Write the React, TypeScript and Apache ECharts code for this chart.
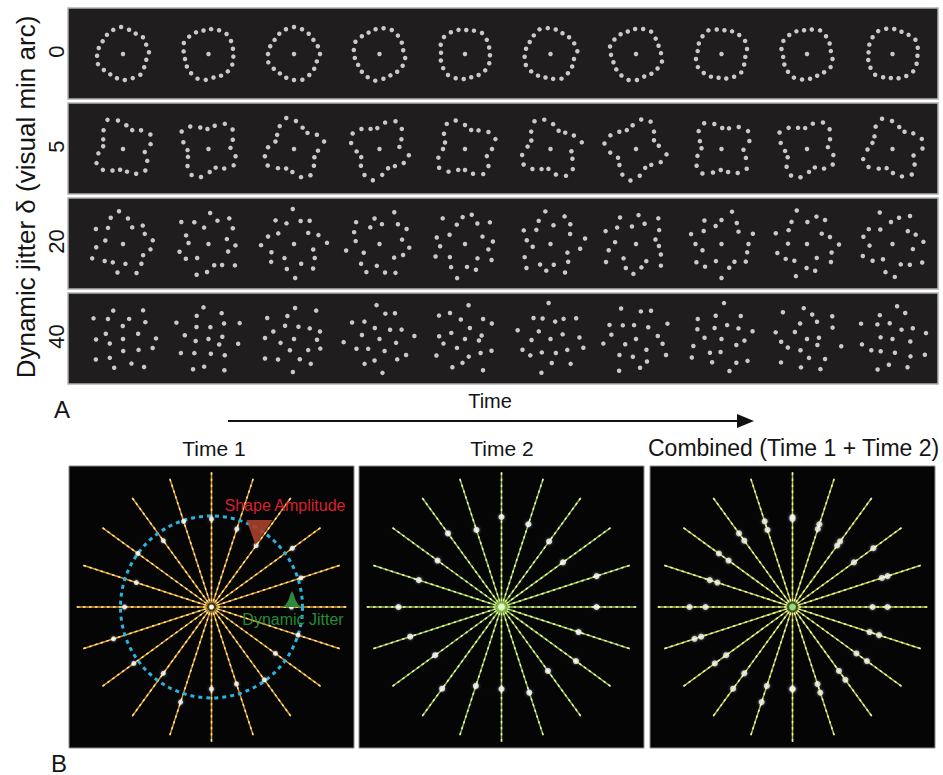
import React, { useEffect, useRef } from "react";
import * as echarts from "echarts";

// ---- Panel A: dot patterns per jitter level (rows) and time frame (columns) ----
const jitterLevels = ["0", "5", "20", "40"];
const dotAngles = [0, 18, 36, 54, 72, 90, 108, 126, 144, 162, 180, 198, 216, 234, 252, 270, 288, 306, 324, 342];

// radius of each of the 20 dots (visual units) for every frame
const radiiDelta0 = [
  [26, 25, 26, 24, 25, 27, 26, 25, 24, 25, 26, 27, 25, 24, 25, 26, 26, 27, 25, 24],
  [25, 26, 27, 26, 25, 24, 25, 26, 27, 25, 24, 25, 26, 27, 26, 24, 25, 26, 26, 25],
  [26, 25, 24, 25, 26, 27, 26, 25, 24, 25, 26, 27, 25, 24, 25, 26, 27, 26, 25, 24],
  [24, 25, 26, 27, 26, 25, 24, 25, 27, 26, 25, 24, 25, 26, 27, 25, 24, 25, 26, 26],
  [25, 26, 27, 25, 24, 25, 26, 27, 26, 24, 25, 26, 27, 26, 25, 24, 25, 26, 26, 25],
  [27, 26, 25, 24, 25, 26, 27, 25, 24, 25, 26, 27, 26, 25, 24, 25, 27, 26, 25, 24],
  [25, 24, 25, 27, 26, 25, 24, 25, 26, 27, 25, 24, 25, 26, 27, 26, 24, 25, 26, 27],
  [26, 27, 26, 25, 24, 25, 27, 26, 25, 24, 26, 27, 26, 25, 24, 25, 26, 27, 25, 24],
  [24, 25, 26, 27, 25, 24, 25, 26, 27, 26, 24, 25, 26, 27, 26, 25, 24, 25, 27, 26],
  [26, 27, 25, 24, 25, 26, 27, 26, 25, 24, 25, 26, 27, 25, 24, 25, 26, 27, 26, 25],
];
const radiiDelta5 = [
  [28, 31, 26, 21, 24, 29, 33, 27, 22, 20, 25, 30, 29, 24, 21, 23, 28, 31, 27, 22],
  [22, 26, 31, 30, 24, 20, 23, 29, 32, 26, 21, 22, 27, 31, 29, 23, 20, 25, 30, 28],
  [31, 27, 21, 23, 28, 32, 27, 22, 20, 26, 30, 31, 25, 21, 23, 29, 31, 26, 22, 24],
  [20, 24, 30, 32, 27, 21, 22, 27, 31, 29, 23, 20, 25, 30, 32, 26, 21, 23, 28, 30],
  [27, 32, 29, 23, 20, 24, 30, 31, 26, 21, 22, 28, 32, 28, 22, 21, 26, 31, 29, 23],
  [32, 27, 22, 20, 25, 30, 32, 26, 21, 23, 29, 31, 27, 22, 20, 26, 31, 30, 24, 21],
  [23, 20, 25, 31, 30, 24, 21, 24, 29, 32, 26, 20, 23, 29, 32, 27, 21, 22, 28, 31],
  [29, 32, 28, 22, 21, 26, 31, 29, 23, 20, 25, 30, 31, 25, 21, 24, 29, 32, 26, 22],
  [21, 25, 30, 31, 26, 21, 23, 28, 32, 27, 22, 21, 27, 31, 29, 23, 20, 26, 30, 27],
  [30, 31, 26, 21, 23, 28, 32, 28, 22, 21, 25, 31, 30, 24, 20, 24, 29, 32, 27, 22],
];
const radiiDelta20 = [
  [30, 24, 27, 19, 26, 33, 29, 22, 31, 18, 27, 34, 25, 21, 29, 20, 32, 27, 23, 28],
  [19, 29, 33, 25, 31, 17, 26, 35, 24, 20, 30, 27, 18, 33, 28, 22, 25, 34, 21, 27],
  [33, 26, 18, 28, 24, 35, 22, 30, 19, 27, 33, 24, 29, 17, 26, 34, 21, 31, 25, 20],
  [23, 31, 27, 35, 20, 26, 19, 32, 28, 24, 34, 18, 27, 31, 22, 29, 33, 20, 26, 30],
  [28, 19, 33, 24, 30, 27, 21, 34, 18, 29, 25, 32, 20, 27, 35, 23, 28, 19, 31, 24],
  [35, 22, 28, 31, 19, 33, 26, 20, 30, 24, 18, 29, 34, 23, 27, 21, 32, 25, 19, 30],
  [20, 27, 34, 22, 29, 18, 31, 25, 33, 21, 28, 35, 19, 26, 30, 24, 20, 33, 27, 23],
  [27, 33, 21, 26, 34, 24, 19, 29, 22, 32, 26, 20, 31, 28, 18, 34, 25, 22, 30, 27],
  [24, 18, 30, 29, 22, 35, 27, 23, 33, 19, 31, 26, 21, 34, 24, 28, 17, 30, 26, 32],
  [31, 25, 20, 33, 27, 22, 34, 19, 28, 30, 23, 32, 26, 18, 29, 33, 22, 27, 35, 21],
];
const radiiDelta40 = [
  [33, 16, 28, 35, 21, 13, 30, 25, 36, 18, 27, 14, 34, 23, 30, 12, 26, 35, 19, 31],
  [14, 35, 22, 29, 12, 32, 26, 17, 36, 24, 13, 31, 20, 34, 28, 15, 35, 23, 12, 30],
  [27, 19, 36, 13, 31, 24, 16, 34, 22, 29, 14, 35, 26, 12, 33, 21, 30, 18, 28, 23],
  [35, 24, 14, 30, 26, 34, 12, 23, 32, 18, 36, 25, 15, 29, 22, 34, 13, 27, 31, 17],
  [17, 31, 27, 12, 34, 20, 30, 35, 15, 26, 22, 33, 12, 31, 24, 18, 36, 21, 29, 14],
  [29, 13, 33, 24, 18, 36, 22, 27, 14, 34, 19, 30, 26, 16, 35, 24, 15, 32, 20, 34],
  [22, 35, 17, 32, 28, 14, 34, 19, 30, 25, 33, 12, 23, 36, 18, 29, 25, 15, 34, 27],
  [32, 20, 30, 15, 36, 24, 13, 31, 26, 17, 29, 35, 18, 25, 13, 33, 28, 34, 16, 23],
  [12, 28, 34, 20, 25, 31, 17, 36, 14, 32, 26, 21, 35, 13, 29, 19, 33, 27, 12, 35],
  [34, 23, 13, 29, 33, 16, 27, 21, 35, 12, 31, 24, 17, 34, 26, 14, 32, 25, 36, 18],
];
// orientation of each frame (degrees)
const rotationDelta0 = [4, 12, 0, 9, 15, 6, 2, 11, 7, 14];
const rotationDelta5 = [10, 3, 14, 6, 0, 12, 8, 16, 5, 1];
const rotationDelta20 = [7, 15, 2, 11, 5, 9, 13, 0, 17, 4];
const rotationDelta40 = [1, 9, 16, 5, 12, 3, 8, 14, 6, 10];

// ---- Panel B: one radial frequency pattern at two times ----
const time1Radii = [80, 94, 100, 76, 82, 88, 90, 82, 91, 79, 87, 103, 96, 82, 100, 82, 81, 90, 79, 91];
const time2Radii = [95, 100, 76, 81, 87, 90, 81, 91, 79, 87, 103, 96, 82, 101, 83, 82, 90, 79, 92, 81];
const baseRingRadius = 91;
const spokeLength = 135;

// layout
const BAND_H = 91;
const BAND_GAP = 4;
const BAND_W = 870;
const FRAME_X0 = 55;
const FRAME_DX = 85.5;
const DOT_OFFSET = 46;
const FONT = '"Liberation Sans", Arial, Helvetica, sans-serif';

const deg = Math.PI / 180;

function buildPanelA() {
  const rows = [radiiDelta0, radiiDelta5, radiiDelta20, radiiDelta40];
  const rots = [rotationDelta0, rotationDelta5, rotationDelta20, rotationDelta40];
  const pts: number[][] = [];
  rows.forEach((frames, r) => {
    const cy = r * (BAND_H + BAND_GAP) + DOT_OFFSET;
    frames.forEach((radii, f) => {
      const cx = FRAME_X0 + f * FRAME_DX;
      pts.push([cx, cy]);
      radii.forEach((rad, k) => {
        const a = (dotAngles[k] + rots[r][f]) * deg;
        pts.push([cx + rad * Math.cos(a), cy - rad * Math.sin(a)]);
      });
    });
  });
  return pts;
}

function polarDots(radii: number[]) {
  return radii.map((r, k) => [r * Math.cos(dotAngles[k] * deg), r * Math.sin(dotAngles[k] * deg)]);
}

function spokes(idx: number, base: string, dash: string) {
  return {
    type: "custom",
    xAxisIndex: idx,
    yAxisIndex: idx,
    silent: true,
    z: 2,
    data: dotAngles.map((a) => [a, spokeLength]),
    renderItem: (_p: any, api: any) => {
      const a = api.value(0) * deg;
      const L = api.value(1);
      const c = api.coord([0, 0]);
      const e = api.coord([L * Math.cos(a), L * Math.sin(a)]);
      const shape = { x1: c[0], y1: c[1], x2: e[0], y2: e[1] };
      return {
        type: "group",
        children: [
          { type: "line", shape, style: { stroke: base, lineWidth: 1.5 } },
          { type: "line", shape, style: { stroke: dash, lineWidth: 1.5, lineDash: [2.5, 3.5] } },
        ],
      };
    },
  };
}

function dotSeries(idx: number, data: number[][], color: string, size: number) {
  return {
    type: "scatter",
    xAxisIndex: idx,
    yAxisIndex: idx,
    silent: true,
    z: 5,
    symbolSize: size,
    itemStyle: { color, shadowBlur: 3, shadowColor: "rgba(255,255,255,0.6)" },
    data,
  };
}

function buildOption() {
  const panelsB = [69, 359, 650];
  const grids: any[] = [
    { left: 68, top: 8, width: BAND_W, height: 4 * BAND_H + 3 * BAND_GAP },
    ...panelsB.map((left) => ({
      left,
      top: 466,
      width: 285,
      height: 282,
      show: true,
      backgroundColor: "#050505",
      borderColor: "#8c8c8c",
      borderWidth: 1,
    })),
  ];
  const xAxes: any[] = [
    { type: "value", gridIndex: 0, min: 0, max: BAND_W, show: false },
    ...panelsB.map((_, i) => ({ type: "value", gridIndex: i + 1, min: -142.5, max: 142.5, show: false })),
  ];
  const yAxes: any[] = [
    { type: "value", gridIndex: 0, min: 0, max: 4 * BAND_H + 3 * BAND_GAP, inverse: true, show: false },
    ...panelsB.map((_, i) => ({ type: "value", gridIndex: i + 1, min: -141, max: 141, show: false })),
  ];

  const bands = jitterLevels.map((_, r) => [r * (BAND_H + BAND_GAP), r * (BAND_H + BAND_GAP) + BAND_H]);

  const series: any[] = [
    {
      type: "custom",
      xAxisIndex: 0,
      yAxisIndex: 0,
      silent: true,
      z: 1,
      data: bands,
      renderItem: (_p: any, api: any) => {
        const p0 = api.coord([0, api.value(0)]);
        const p1 = api.coord([BAND_W, api.value(1)]);
        return {
          type: "rect",
          shape: { x: p0[0], y: p0[1], width: p1[0] - p0[0], height: p1[1] - p0[1] },
          style: { fill: "#201d1e", stroke: "#b0b0b0", lineWidth: 1.5 },
        };
      },
    },
    {
      type: "scatter",
      xAxisIndex: 0,
      yAxisIndex: 0,
      silent: true,
      z: 3,
      symbolSize: 4.5,
      itemStyle: { color: "#f5f5f5" },
      data: buildPanelA(),
    },
    // Time 1
    spokes(1, "#d9981c", "#fbe7a4"),
    {
      type: "custom",
      xAxisIndex: 1,
      yAxisIndex: 1,
      silent: true,
      z: 3,
      data: [[baseRingRadius, 0]],
      renderItem: (_p: any, api: any) => {
        const c = api.coord([0, 0]);
        const r = api.size([api.value(0), 0])[0];
        return {
          type: "circle",
          shape: { cx: c[0], cy: c[1], r },
          style: { fill: "none", stroke: "#2cb2df", lineWidth: 3, lineDash: [4, 4] },
        };
      },
    },
    {
      type: "custom",
      xAxisIndex: 1,
      yAxisIndex: 1,
      silent: true,
      z: 6,
      data: [[0, 0]],
      renderItem: (_p: any, api: any) => {
        const tri = [[35, 87], [61, 87], [44, 62]].map((p) => api.coord(p));
        const bump = [[70, 0], [74, 2], [77, 7], [79, 13], [80.5, 16], [82, 13], [84, 7], [87, 2], [91, 0]].map((p) =>
          api.coord(p)
        );
        return {
          type: "group",
          children: [
            { type: "polygon", shape: { points: tri }, style: { fill: "rgba(168,66,44,0.9)" } },
            { type: "polygon", shape: { points: bump }, style: { fill: "#2f8a3d" } },
          ],
        };
      },
    },
    dotSeries(1, polarDots(time1Radii), "#ffffff", 5),
    {
      type: "scatter",
      xAxisIndex: 1,
      yAxisIndex: 1,
      silent: true,
      z: 7,
      symbolSize: 7,
      itemStyle: { color: "#ffffff", borderColor: "#111", borderWidth: 2 },
      data: [[0, 0]],
    },
    // Time 2
    spokes(2, "#8fbe3a", "#eef5c4"),
    dotSeries(2, polarDots(time2Radii), "#ffffff", 6),
    {
      type: "scatter",
      xAxisIndex: 2,
      yAxisIndex: 2,
      silent: true,
      z: 7,
      symbolSize: 9,
      itemStyle: { color: "#f6ffe6", borderColor: "#6fb83a", borderWidth: 2, shadowBlur: 8, shadowColor: "#8fd040" },
      data: [[0, 0]],
    },
    // Combined
    spokes(3, "#b2c235", "#f4f2b6"),
    dotSeries(3, polarDots(time1Radii), "#f6f6ea", 6),
    dotSeries(3, polarDots(time2Radii), "#f6f6ea", 6),
    {
      type: "scatter",
      xAxisIndex: 3,
      yAxisIndex: 3,
      silent: true,
      z: 7,
      symbolSize: 9,
      itemStyle: { color: "#8fd27a", borderColor: "#1d3a14", borderWidth: 2 },
      data: [[0, 0]],
    },
  ];

  const txt = (text: string, x: number, y: number, size: number, extra: any = {}) => ({
    type: "text",
    x,
    y,
    z: 100,
    silent: true,
    ...extra,
    style: {
      text,
      font: `${size}px ${FONT}`,
      fill: "#141414",
      align: "center",
      verticalAlign: "middle",
      ...(extra.style || {}),
    },
  });

  const bandCenter = (r: number) => 8 + r * (BAND_H + BAND_GAP) + BAND_H / 2 - 2;

  const graphic: any[] = [
    txt("Dynamic jitter δ (visual min arc)", 26, 197, 26, { rotation: Math.PI / 2 }),
    ...jitterLevels.map((lv, r) => txt(lv, 56, bandCenter(r), 22, { rotation: Math.PI / 2 })),
    txt("A", 62, 409, 24),
    txt("Time", 490, 401, 20),
    { type: "line", z: 100, shape: { x1: 228, y1: 421, x2: 742, y2: 421 }, style: { stroke: "#111", lineWidth: 2 } },
    { type: "polygon", z: 100, shape: { points: [[737, 414], [754, 421], [737, 428]] }, style: { fill: "#111" } },
    txt("Time 1", 214, 448, 21),
    txt("Time 2", 502, 448, 21),
    txt("Combined (Time 1 + Time 2)", 648, 448, 23, { style: { align: "left" } }),
    txt("B", 59, 763, 24),
    txt("Shape Amplitude", 285, 505, 16, { style: { fill: "#d8202e" } }),
    txt("Dynamic Jitter", 293, 619, 16, { style: { fill: "#268a38" } }),
  ];

  return {
    animation: false,
    backgroundColor: "#ffffff",
    grid: grids,
    xAxis: xAxes,
    yAxis: yAxes,
    series,
    graphic,
  };
}

export default function App() {
  const ref = useRef<HTMLDivElement>(null);
  useEffect(() => {
    if (!ref.current) return;
    const chart = echarts.init(ref.current, undefined, { renderer: "svg" });
    chart.setOption(buildOption() as any);
    return () => chart.dispose();
  }, []);
  return (
    <div
      ref={ref}
      style={{ position: "fixed", left: 0, top: 0, width: 943, height: 775, background: "#fff" }}
    />
  );
}
